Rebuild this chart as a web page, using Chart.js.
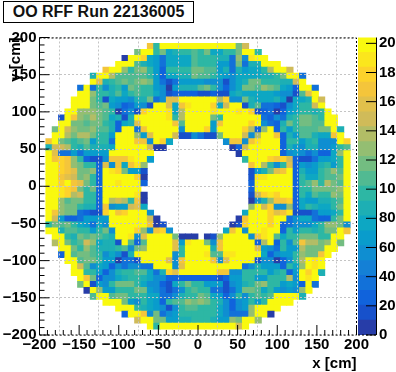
<!DOCTYPE html>
<html><head><meta charset="utf-8">
<style>
html,body{margin:0;padding:0;background:#fff;overflow:hidden}
#wrap{position:relative;width:396px;height:372px;overflow:hidden}
canvas{position:absolute;top:0;display:block}
#main{left:0}
#bar{left:357px}
#ttl{position:absolute;left:3px;top:1px;width:189px;height:20px;border:1px solid #000;background:#fff;box-sizing:content-box;
font:bold 16px "Liberation Sans",Arial,sans-serif;line-height:20px;text-align:center;color:#111;white-space:nowrap}
</style>
<script src="https://cdn.jsdelivr.net/npm/chart.js@4"></script>
</head><body>
<div id="wrap"><canvas id="main" width="396" height="372"></canvas><canvas id="bar" width="39" height="372"></canvas><div id="ttl">OO RFF Run 22136005</div></div>
<script>
// Each row: segments of [first column, values...]; row 1 is the top (y 192..184 cm), bin width 8 cm
const r01=[[17,165,95,210,210,210,210,210,210,210,210,210,210,210,210,115,150]];
const r02=[[15,115,210,210,95,120,75,85,100,95,110,100,115,75,75,95,95,115,210,210,95]];
const r03=[[13,8,210,210,175,80,65,35,75,75,80,75,110,100,95,95,85,85,35,125,55,190,210,210]];
const r04=[[12,210,210,210,105,90,75,70,35,75,80,80,75,110,100,95,95,65,65,35,115,40,85,90,210,210,210]];
const r05=[[10,165,210,210,125,100,115,125,95,65,30,95,95,95,95,115,115,110,110,70,90,40,85,70,75,75,95,135,210,210,150]];
const r06=[[8,85,210,210,140,110,110,105,105,110,95,65,30,75,80,85,90,115,110,105,95,75,65,60,75,75,80,75,90,85,95,120,210,210,40]];
const r07=[[8,210,160,90,95,110,115,105,115,130,115,70,40,18,35,65,70,70,70,60,60,55,20,60,75,90,115,115,95,95,95,85,85,150,210]];
const r08=[[6,40,210,35,95,55,85,100,65,115,110,100,95,70,55,8,70,90,90,85,105,115,95,60,30,60,75,115,115,105,125,115,110,75,70,30,210,210,40]];
const r09=[[6,210,210,125,100,95,90,105,80,95,105,100,95,75,60,15,22,25,25,25,20,12,25,18,18,80,85,75,75,75,80,75,70,60,55,20,110,155,210]];
const r10=[[5,210,210,210,120,100,18,80,65,65,60,85,90,115,40,60,155,155,210,210,210,210,210,210,135,175,55,60,120,90,75,75,80,90,65,8,75,75,90,210,150]];
const r11=[[5,210,210,210,115,110,115,65,60,30,35,65,55,20,210,210,155,80,170,190,210,210,210,175,75,150,210,210,18,85,105,40,40,25,18,60,80,95,95,150,210]];
const r12=[[4,210,210,130,125,125,115,110,95,5,40,60,15,175,210,210,210,190,80,135,210,210,210,210,190,210,210,210,190,210,175,20,30,35,5,30,65,80,95,95,85,95,210]];
const r13=[[3,18,210,165,125,115,140,120,105,80,90,18,85,210,210,210,210,210,190,95,135,210,210,210,210,115,95,210,210,210,210,210,210,35,25,55,40,85,95,115,115,105,95,210,210]];
const r14=[[3,210,210,120,115,105,115,120,100,90,30,75,85,155,210,210,210,210,210,165,110,210,210,210,210,70,165,210,210,210,210,175,210,60,40,30,85,115,95,115,115,105,110,210,210]];
const r15=[[2,115,210,145,125,115,115,125,105,105,90,30,210,210,40,170,210,210,210,210,210,60,210,210,210,175,70,195,210,210,210,175,140,25,125,210,25,95,65,95,110,110,105,115,115,210,90]];
const r16=[[2,210,210,135,120,140,140,115,95,100,70,210,210,210,125,65,155,210,210,210,145,20,20,55,40,18,18,115,210,210,210,150,55,135,210,210,170,25,90,70,110,110,85,80,80,170,210]];
const r17=[[1,170,210,115,105,95,105,115,70,95,95,40,210,210,210,165,165,60,210,180,80],[29,60,165,165,55,170,190,210,210,210,25,95,95,65,90,95,60,60,55,210,175]];
const r18=[[1,85,150,145,140,95,90,105,90,90,85,80,210,210,210,210,210,150,5,8],[30,5,25,150,210,210,210,210,210,30,85,65,55,85,85,60,60,65,95,110]];
const r19=[[1,210,160,40,40,65,40,70,70,70,65,210,210,210,210,210,210,210],[31,8,210,210,210,210,210,210,30,60,65,55,40,55,30,28,80,130,210]];
const r20=[[1,210,165,175,165,125,95,30,20,20,55,165,170,170,185,210,210,65],[32,100,210,210,210,175,165,180,150,25,18,18,40,70,70,80,95,210]];
const r21=[[1,210,210,180,165,125,115,95,95,25,155,60,165,80,165,190,125],[33,165,210,135,100,60,95,155,25,65,60,70,90,95,70,100,210]];
const r22=[[1,210,210,180,170,160,115,115,125,25,210,185,175,115,65,70,18],[33,18,70,90,120,155,170,210,30,85,70,70,95,110,125,105,210]];
const r23=[[1,210,210,170,155,145,115,130,95,22,210,210,210,210,210,175,8],[33,18,185,185,210,210,210,210,25,95,75,80,95,110,110,115,210]];
const r24=[[1,210,210,180,200,165,155,115,100,22,210,210,190,210,210,210,22],[33,25,210,210,210,210,210,210,25,100,110,125,100,140,115,110,210]];
const r25=[[1,210,210,185,175,170,120,95,115,22,210,210,210,210,210,210],[33,25,210,210,210,210,210,210,25,95,100,115,115,115,115,125,210]];
const r26=[[1,210,210,185,175,140,150,100,95,22,210,210,210,210,210,185,8],[33,18,150,180,185,175,210,210,25,95,80,110,100,95,125,115,210]];
const r27=[[1,210,210,130,110,120,115,95,95,25,210,140,145,135,95,165,8],[33,8,55,85,125,165,165,175,30,75,70,70,85,90,95,110,210]];
const r28=[[1,210,210,130,115,115,100,85,90,22,170,55,70,65,150,155,80],[33,130,210,150,175,60,60,125,25,80,95,85,75,75,95,115,210]];
const r29=[[1,210,165,130,120,115,35,25,18,18,175,210,165,175,210,210,210,55],[32,80,210,210,210,175,160,170,185,18,18,18,40,70,70,80,95,210]];
const r30=[[1,210,145,65,25,25,40,65,70,65,65,210,210,210,210,210,210,150,8],[31,8,170,210,210,210,180,210,210,35,55,75,75,40,28,28,95,115,210]];
const r31=[[1,95,115,105,115,95,80,70,40,80,55,210,210,210,210,210,210,165,8,12],[30,5,20,175,210,210,210,175,210,25,40,60,60,60,80,95,125,125,115,55]];
const r32=[[1,210,210,90,105,105,95,95,70,95,120,55,210,210,210,180,125,55,165,175,55],[29,80,165,210,55,210,210,185,210,210,22,95,65,100,100,90,95,115,115,210,165]];
const r33=[[2,210,210,95,90,115,110,115,105,95,90,210,210,185,60,160,210,210,210,210,115,8,8,8],[26,8,18,125,210,210,210,210,55,165,185,210,105,80,95,95,115,115,115,95,95,210,210]];
const r34=[[2,135,210,115,100,105,150,125,75,85,85,18,210,105,30,110,210,210,210,210,155,65,185,210,210,115,55,165,210,210,210,210,210,22,140,210,22,95,60,105,165,135,135,115,125,210,115]];
const r35=[[3,210,210,115,95,125,110,85,85,85,95,110,55,120,125,210,210,210,210,155,95,210,210,210,210,90,165,210,210,210,210,210,155,65,55,35,95,70,70,135,115,115,115,210,210]];
const r36=[[3,22,210,110,115,115,110,95,60,75,60,18,90,210,210,210,210,210,210,60,95,210,210,210,190,110,110,190,190,210,210,210,210,75,25,55,65,65,95,130,115,115,170,210]];
const r37=[[4,210,210,110,115,115,95,65,65,5,40,40,18,210,210,210,210,155,55,170,210,210,210,210,165,55,160,210,210,210,210,18,60,60,5,25,60,95,135,210,190,210]];
const r38=[[5,210,145,105,60,80,70,22,55,35,60,60,40,40,210,210,210,60,160,210,210,210,210,210,210,210,210,210,35,60,90,65,65,65,30,95,80,125,210,190,210]];
const r39=[[5,210,210,95,95,65,25,55,85,95,95,105,105,75,40,85,180,160,210,210,210,210,210,210,165,165,55,60,95,95,95,95,65,90,95,25,70,210,180,200,90]];
const r40=[[6,210,170,115,30,55,55,80,85,95,95,90,75,60,60,25,25,25,25,25,25,25,25,18,25,65,65,95,95,70,70,95,95,95,135,55,210,190,210]];
const r41=[[6,115,210,18,65,60,95,115,115,115,95,80,55,55,30,12,75,95,115,95,95,65,65,65,18,55,65,85,95,115,125,95,95,70,75,70,22,210,35]];
const r42=[[7,5,210,125,65,70,95,95,95,115,115,65,55,40,12,40,55,95,105,95,95,40,40,18,40,70,115,115,105,80,95,65,60,65,60,125,210]];
const r43=[[8,110,210,210,110,115,115,95,95,95,80,80,40,35,60,85,95,95,115,110,80,70,30,55,95,55,95,105,95,110,210,210,210,210,85]];
const r44=[[10,210,210,210,115,65,60,95,75,65,30,95,110,110,125,115,125,115,95,90,60,30,60,65,95,65,95,210,210,210,210]];
const r45=[[12,210,210,210,95,85,75,65,55,12,55,95,105,105,100,95,95,75,55,25,55,65,125,210,210,210,210]];
const r46=[[13,22,210,210,170,60,115,35,55,70,95,95,95,95,95,95,75,60,40,40,40,125,210,210,8]];
const r47=[[15,145,210,210,115,115,65,65,90,90,95,95,95,90,70,65,125,115,210,210,125]];
const r48=[[17,210,95,210,210,210,210,210,210,210,210,210,210,210,210,150,210]];
const rows=[r01,r02,r03,r04,r05,r06,r07,r08,r09,r10,r11,r12,r13,r14,r15,r16,r17,r18,r19,r20,r21,r22,r23,r24,r25,r26,r27,r28,r29,r30,r31,r32,r33,r34,r35,r36,r37,r38,r39,r40,r41,r42,r43,r44,r45,r46,r47,r48];

const axisMin=-200, axisMax=200, binSize=8;
const zMax=204, zBands=20;
const zTicks=[0,20,40,60,80,100,120,140,160,180,200];
const birdStops=[[.2082,.1664,.5293],[.0592,.3599,.8684],[.0780,.5041,.8385],[.0232,.6419,.7914],[.1802,.7178,.6425],[.5301,.7492,.4662],[.8186,.7328,.3499],[.9956,.7862,.1968],[.9764,.9832,.0539]];

function bandColor(b){
  const t=Math.floor((b+0.99)*255/zBands)/255*8, k=Math.min(7,Math.floor(t)), f=t-k;
  const c=[0,1,2].map(n=>Math.round(255*(birdStops[k][n]+(birdStops[k+1][n]-birdStops[k][n])*f)));
  return `rgb(${c[0]},${c[1]},${c[2]})`;
}
function colorOf(v){return bandColor(Math.min(zBands-1,Math.floor(v/(zMax/zBands))));}

const cells=[];
rows.forEach((segs,ri)=>{
  const top=axisMax-binSize*(ri+1);
  segs.forEach(seg=>{
    seg.slice(1).forEach((v,k)=>{
      const lo=axisMin+binSize*(seg[0]+k);
      cells.push({x:lo+binSize/2,y:[top-binSize,top],v});
    });
  });
});

const FONT='"Liberation Sans",Arial,sans-serif';
const num=v=>String(v).replace('-','\u2212');
const inwardTicks={id:'inwardTicks',afterDraw(c){
  const g=c.ctx,a=c.chartArea,X=c.scales.x,Y=c.scales.y;
  g.save();g.strokeStyle='#000';g.lineWidth=1;
  g.setLineDash([2,2]);
  g.beginPath();g.moveTo(a.left,a.top+.5);g.lineTo(a.right,a.top+.5);g.lineTo(a.right,a.bottom);
  g.moveTo(a.left,a.bottom);g.lineTo(a.right,a.bottom);g.stroke();
  g.setLineDash([]);
  g.beginPath();g.moveTo(a.left,a.top);g.lineTo(a.left,a.bottom);
  for(let v=axisMin;v<=axisMax;v+=10){
    const len=(v%50===0)?10:5;
    const px=X.getPixelForValue(v),py=Y.getPixelForValue(v);
    g.moveTo(px,a.bottom);g.lineTo(px,a.bottom-len);
    g.moveTo(a.left,py);g.lineTo(a.left+len,py);
  }
  g.stroke();g.restore();
}};

new Chart(document.getElementById('main'),{
  type:'bar',
  data:{datasets:[{data:cells,backgroundColor:ctx=>ctx.raw?colorOf(ctx.raw.v):'#fff',borderWidth:0,inflateAmount:0.4,barPercentage:1,categoryPercentage:1}]},
  options:{responsive:false,animation:false,
    layout:{padding:{top:37.5,right:39.5,left:0,bottom:0}},
    plugins:{legend:{display:false},tooltip:{enabled:false}},
    scales:{
      x:{type:'linear',min:axisMin,max:axisMax,offset:false,
        afterFit:s=>{s.height=37;},
        grid:{color:'#c4c4c4',z:1,drawTicks:false,lineWidth:1},border:{display:false,dash:[2,2]},
        ticks:{stepSize:50,autoSkip:false,maxRotation:0,padding:1,color:'#000',font:{family:FONT,weight:'bold',size:15},callback:num},
        title:{display:true,text:'x [cm]',align:'end',color:'#000',font:{family:FONT,weight:'bold',size:15},padding:{top:0,bottom:-1}}},
      y:{type:'linear',min:axisMin,max:axisMax,
        afterFit:s=>{s.width=39.5;},
        grid:{color:'#c4c4c4',z:1,drawTicks:false,lineWidth:1},border:{display:false,dash:[2,2]},
        ticks:{stepSize:50,autoSkip:false,padding:3,color:'#000',font:{family:FONT,weight:'bold',size:15},callback:num},
        title:{display:true,text:'y [cm]',align:'end',color:'#000',font:{family:FONT,weight:'bold',size:15},padding:{top:7,bottom:0}}}
    }
  },
  plugins:[inwardTicks]
});

const bandData=[];const bandValues=[];
for(let b=0;b<zBands;b++){bandValues.push(b);bandData.push({x:'z',y:[b*zMax/zBands,(b+1)*zMax/zBands]});}
const zAxisTicks={id:'zAxisTicks',afterDraw(c){
  const g=c.ctx,a=c.chartArea,Y=c.scales.y;
  g.save();g.strokeStyle='#000';g.lineWidth=1;g.beginPath();
  g.moveTo(a.right+.5,a.top);g.lineTo(a.right+.5,a.bottom);
  zTicks.forEach(v=>{const p=Y.getPixelForValue(v);g.moveTo(a.right,p);g.lineTo(a.right-10,p);});
  g.stroke();
  g.setLineDash([2,2]);g.beginPath();g.moveTo(a.left,a.bottom);g.lineTo(a.right,a.bottom);g.stroke();
  g.restore();
}};
new Chart(document.getElementById('bar'),{
  type:'bar',
  data:{labels:['z'],datasets:bandValues.map((b,i)=>({data:[bandData[i]],backgroundColor:bandColor(b),borderWidth:0,inflateAmount:0.4,barPercentage:1,categoryPercentage:1,grouped:false}))},
  options:{responsive:false,animation:false,
    layout:{padding:{top:37.5,left:1,right:0,bottom:37}},
    plugins:{legend:{display:false},tooltip:{enabled:false}},
    scales:{
      x:{display:false,grid:{display:false}},
      y:{position:'right',min:0,max:zMax,afterFit:s=>{s.width=20;},
        afterBuildTicks:s=>{s.ticks=zTicks.map(v=>({value:v}));},
        grid:{display:false,drawTicks:false},border:{display:false},
        ticks:{padding:3,color:'#000',autoSkip:false,font:{family:FONT,weight:'bold',size:15}}}
    }
  },
  plugins:[zAxisTicks]
});
</script>
</body></html>
